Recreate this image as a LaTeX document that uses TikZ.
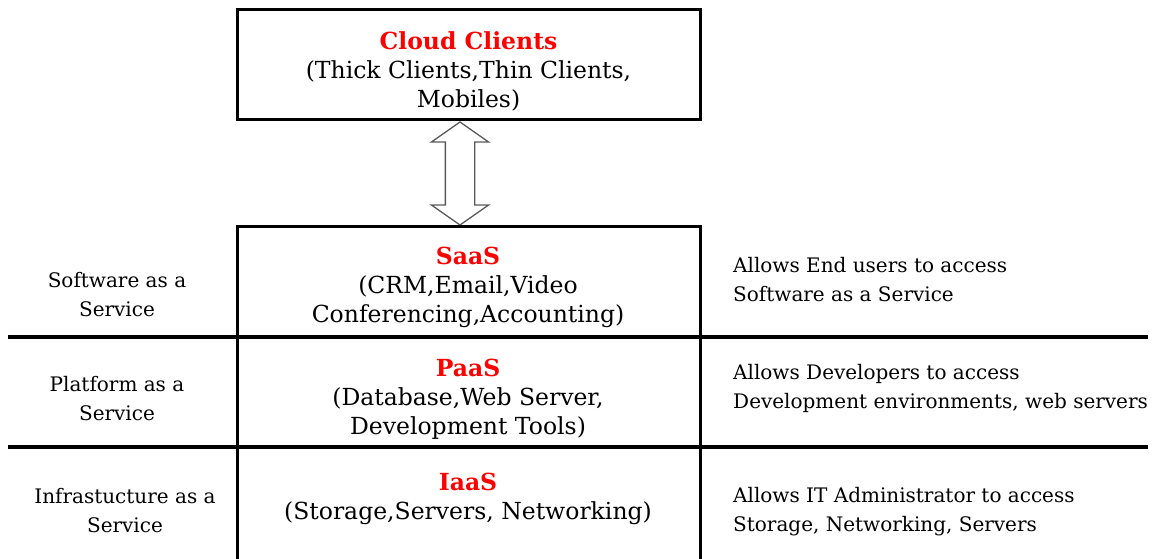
\documentclass[tikz,border=0pt]{standalone}
\usepackage{fontspec}
\setmainfont{DejaVu Serif}
\usetikzlibrary{positioning,shapes.arrows}

\begin{document}
\begin{tikzpicture}[x=1pt,y=-1pt,
		box/.style={font=\fontsize{23.5}{29}\selectfont,align=center},
		side/.style={font=\fontsize{20}{29}\selectfont,align=center},
		note/.style={font=\fontsize{20}{29}\selectfont,align=left,anchor=west,inner sep=0pt},
		frame/.style={line width=3pt},
		rule/.style={line width=4.5pt}]
		\useasboundingbox (0,0) rectangle (1156,559);
		
		\node [draw,frame,minimum width=463pt,minimum height=110pt] (clients) at (468.5,65) {};
		\node [box]                  (clienttext) at (468.5,71)
			{\textcolor{red}{\textbf{Cloud Clients}}\\(Thick Clients,Thin Clients,\\Mobiles)};
		\node [draw=black!65,line width=1.3pt,double arrow,rotate=90,minimum height=103pt,
			inner sep=14pt,double arrow head extend=14pt,double arrow tip angle=110] (link) at (460,173.5) {};
		
		% table
		\draw [frame] (237,565) -- (237,226) -- (700,226) -- (700,565);
		\draw [rule] (8,337) -- (1148,337);
		\draw [rule] (8,447) -- (1148,447);
		
		\node [side]                 (swlabel)  at (117,295) {Software as a\\Service};
		\node [box]                  (saas)     at (468,287) {\textcolor{red}{\textbf{SaaS}}\\(CRM,Email,Video\\Conferencing,Accounting)};
		\node [note]                 (saasnote) at (733,280) {Allows End users to access\\Software as a Service};
		
		\node [side]                 (pflabel)  at (117,399) {Platform as a\\Service};
		\node [box]                  (paas)     at (468,399) {\textcolor{red}{\textbf{PaaS}}\\(Database,Web Server,\\Development Tools)};
		\node [note]                 (paasnote) at (733,388) {Allows Developers to access\\Development environments, web servers};
		
		\node [side]                 (iflabel)  at (125,511) {Infrastucture as a\\Service};
		\node [box]                  (iaas)     at (468,499) {\textcolor{red}{\textbf{IaaS}}\\(Storage,Servers, Networking)};
		\node [note]                 (iaasnote) at (733,512) {Allows IT Administrator to access\\Storage, Networking, Servers};
	\end{tikzpicture}
\end{document}
